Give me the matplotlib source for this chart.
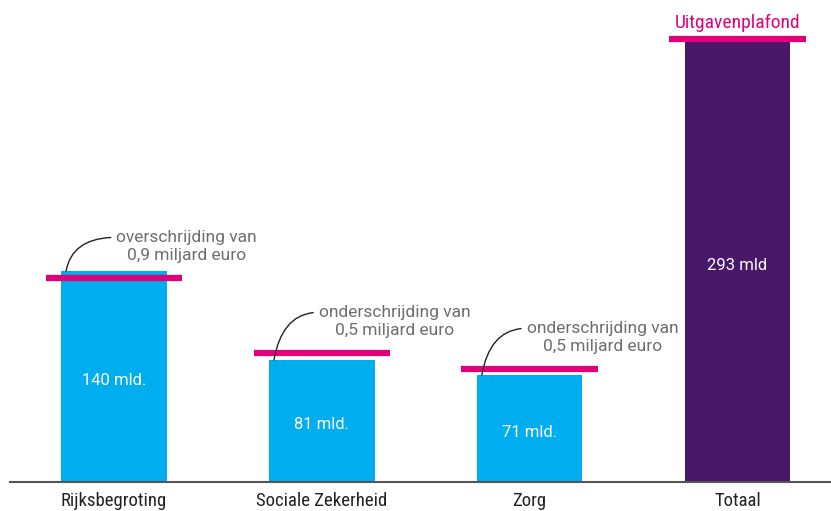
import matplotlib
matplotlib.use("Agg")
import matplotlib.pyplot as plt
from matplotlib import font_manager

categories = ["Rijksbegroting", "Sociale Zekerheid", "Zorg", "Totaal"]
values = [140, 81, 71, 293]
plafond = [135.4, 85.6, 75.0, 294.0]
bar_labels = ["140 mld.", "81 mld.", "71 mld.", "293 mld"]
notes = ["overschrijding van\n0,9 miljard euro",
         "onderschrijding van\n0,5 miljard euro",
         "onderschrijding van\n0,5 miljard euro"]
plafond_label = "Uitgavenplafond"

CYAN = "#00aeef"
PURPLE = "#4a1869"
PINK = "#e2007a"
GREY = "#6e6e6e"

names = {f.name for f in font_manager.fontManager.ttflist}
narrow = "Liberation Sans Narrow" if "Liberation Sans Narrow" in names else "Roboto Condensed"
if narrow not in names:
    narrow = "Liberation Sans"
body = "Roboto"

fig = plt.figure(figsize=(8.31, 5.11), dpi=100)
ax = fig.add_axes([0.012, 0.0568, 0.988, 0.9432])
xs = list(range(len(categories)))
colors = [CYAN, CYAN, CYAN, PURPLE]

ax.bar(xs, values, width=0.508, color=colors, zorder=2)
ax.hlines(plafond, [x - 0.328 for x in xs], [x + 0.328 for x in xs],
          color=PINK, lw=4.5, zorder=3)

for x, v, lab in zip(xs, values, bar_labels):
    ax.text(x, v / 2 - 2.5, lab, ha="center", va="center", color="white",
            fontsize=12, family=body, zorder=4)

for x, v, p, note in zip(xs[:3], values[:3], plafond[:3], notes):
    ax.annotate(note, xy=(x - 0.23, v), xytext=(x + 0.35, p + 21),
                ha="center", va="center", color=GREY, fontsize=12.5,
                family=body, linespacing=1.2, zorder=5,
                arrowprops=dict(arrowstyle="-", color="#222222", lw=1,
                                connectionstyle="angle3,angleA=0,angleB=80",
                                relpos=(0, 0.78), shrinkA=2, shrinkB=0))

ax.text(xs[3], plafond[3] + 11, plafond_label, ha="center", va="center",
        color=PINK, fontsize=14, family=narrow)

ax.set_xlim(-0.5, 3.45)
ax.set_ylim(0, 320)
ax.set_yticks([])
ax.set_xticks(xs)
ax.set_xticklabels(categories, family=narrow, fontsize=13.5, color="#222222")
ax.tick_params(axis="x", length=0, pad=7)
for s in ["top", "right", "left"]:
    ax.spines[s].set_visible(False)
ax.spines["bottom"].set_color("#555555")
ax.spines["bottom"].set_linewidth(1.5)

fig.savefig("out.png", dpi=100)
